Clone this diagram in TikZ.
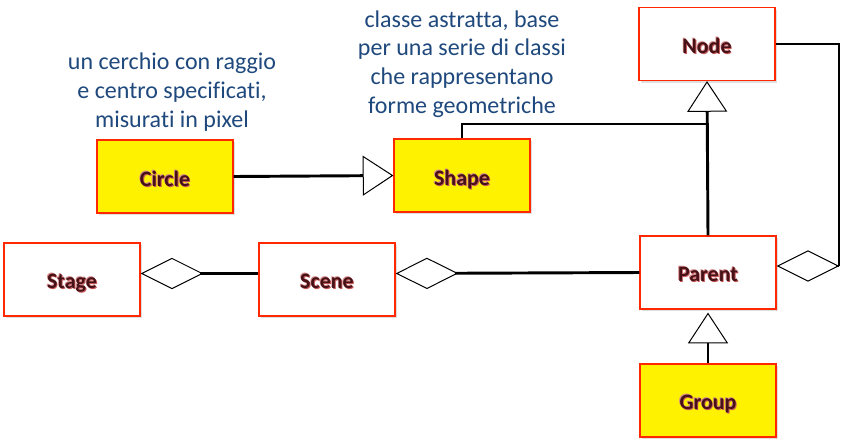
\documentclass[tikz,border=0pt]{standalone}
\usepackage{fontspec}
\setmainfont[Ligatures={NoCommon}]{Carlito}
\usetikzlibrary{arrows.meta,shadows,calc}
\definecolor{notec}{RGB}{31,73,125}
\definecolor{boxred}{RGB}{255,40,0}
\definecolor{lblc}{RGB}{70,18,24}
\definecolor{glowc}{RGB}{200,90,90}
\newcommand{\glowtxt}[1]{%
  \makebox[0pt][l]{\hspace{0.7pt}\raisebox{-0.7pt}{\textcolor{glowc}{#1}}}%
  \makebox[0pt][l]{\hspace{-0.6pt}\raisebox{0.6pt}{\textcolor{glowc!70}{#1}}}%
  \textcolor{lblc}{#1}}
\tikzset{
  cls/.style={draw=boxred, line width=0.9pt, fill=white,
    minimum width=102pt, minimum height=54.75pt, inner sep=0pt,
    font=\fontsize{16.5}{19}\selectfont\bfseries, text depth=0pt,
    drop shadow={shadow xshift=1.5pt, shadow yshift=-1.5pt, opacity=0.25, fill=gray}},
  ycls/.style={cls, fill=yellow},
  conn/.style={line width=2.2pt, black},
  note/.style={align=center, text=notec, font=\fontsize{18}{21.5}\selectfont},
  inh/.style={-{Triangle[open, length=23pt, width=30pt, line width=0.75pt]}},
  agg/.style={{Diamond[open, length=47pt, width=23.5pt, line width=0.75pt]}-}
}
\newcommand{\lbl}[1]{\raisebox{-2.2pt}{\glowtxt{#1}}}
\begin{document}
\begin{tikzpicture}[x=0.75pt, y=-0.75pt]
\useasboundingbox (0,0) rectangle (845,444);
\fill[white] (0,0) rectangle (845,444);

\node[ycls] (circle) at (165,176.5) {\lbl{Circle}};
\node[ycls] (shape) at (462,175.5) {\lbl{Shape}};
\node[cls] (node) at (707,44) {\lbl{Node}};
\node[cls] (parent) at (708,272.5) {\lbl{Parent}};
\node[ycls] (group) at (708,400.5) {\lbl{Group}};
\node[cls] (stage) at (72,279.5) {\lbl{Stage}};
\node[cls] (scene) at (327,279.5) {\lbl{Scene}};

\node[note] (n1) at (172,92) {un cerchio con raggio\\e centro specificati,\\misurati in pixel};
\node[note] (n2) at (462,64) {classe astratta, base\\per una serie di classi\\che rappresentano\\forme geometriche};

\coordinate (jn) at (708,124);
\coordinate (rc) at (839,266);
\coordinate (sl) at (0,273.5);
\coordinate (pl) at (0,272.5);

\draw[conn, inh] (circle.east) -- (shape.west);
\draw[conn, inh] (parent.north) -- (node.south);
\draw[conn] (shape.north) |- (jn);
\draw[conn, inh, shorten >=2.25pt] (group.north) -- (parent.south);
\draw[conn] (rc) |- (node.east);
\draw[conn, agg] (parent.east |- rc) -- (rc);
\draw[conn, agg] (stage.east |- sl) -- (scene.west |- sl);
\draw[conn, agg] (scene.east |- sl) -- (parent.west |- pl);
\end{tikzpicture}
\end{document}
